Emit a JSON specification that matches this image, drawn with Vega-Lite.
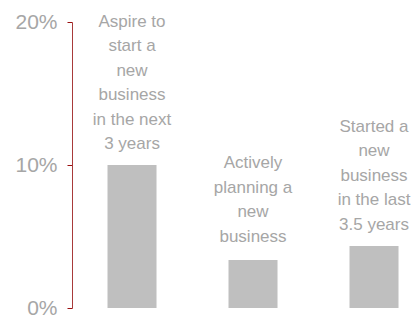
{
  "$schema": "https://vega.github.io/schema/vega-lite/v6.json",
  "width": 344,
  "height": 286,
  "autosize": {"type": "none"},
  "padding": {"left": 72, "top": 22, "right": 0, "bottom": 7},
  "background": "white",
  "config": {"view": {"stroke": null}, "font": "Liberation Sans"},
  "data": {
    "values": [
      {"group": "aspire", "value": 0.100, "label": "Aspire to\nstart a\nnew\nbusiness\nin the next\n3 years"},
      {"group": "planning", "value": 0.0336, "label": "Actively\nplanning a\nnew\nbusiness"},
      {"group": "started", "value": 0.0434, "label": "Started a\nnew\nbusiness\nin the last\n3.5 years"}
    ]
  },
  "encoding": {
    "x": {
      "field": "group",
      "type": "nominal",
      "sort": null,
      "scale": {"paddingInner": 0.595, "paddingOuter": 0.219, "align": 0.67},
      "axis": null
    },
    "y": {
      "field": "value",
      "type": "quantitative",
      "scale": {"domain": [0, 0.2], "nice": false},
      "axis": {
        "values": [0, 0.1, 0.2],
        "format": ".0%",
        "grid": false,
        "domainColor": "#a83a3a",
        "domainWidth": 1,
        "tickColor": "#9a1010",
        "tickSize": 5,
        "labelColor": "#a6a6a6",
        "labelFontSize": 21,
        "labelPadding": 10,
        "labelFont": "Liberation Sans",
        "title": null
      }
    }
  },
  "layer": [
    {"mark": {"type": "bar", "color": "#bfbfbf"}},
    {
      "transform": [{"filter": "datum.group === 'aspire'"}],
      "mark": {
        "type": "text", "lineBreak": "\n", "baseline": "alphabetic", "align": "center",
        "dy": -138.5, "fontSize": 17, "lineHeight": 24.5, "color": "#a6a6a6", "font": "Liberation Sans"
      },
      "encoding": {"text": {"field": "label"}}
    },
    {
      "transform": [{"filter": "datum.group === 'planning'"}],
      "mark": {
        "type": "text", "lineBreak": "\n", "baseline": "alphabetic", "align": "center",
        "dy": -91.5, "fontSize": 17, "lineHeight": 24.5, "color": "#a6a6a6", "font": "Liberation Sans"
      },
      "encoding": {"text": {"field": "label"}}
    },
    {
      "transform": [{"filter": "datum.group === 'started'"}],
      "mark": {
        "type": "text", "lineBreak": "\n", "baseline": "alphabetic", "align": "center",
        "dy": -114, "fontSize": 17, "lineHeight": 24.5, "color": "#a6a6a6", "font": "Liberation Sans"
      },
      "encoding": {"text": {"field": "label"}}
    }
  ]
}
